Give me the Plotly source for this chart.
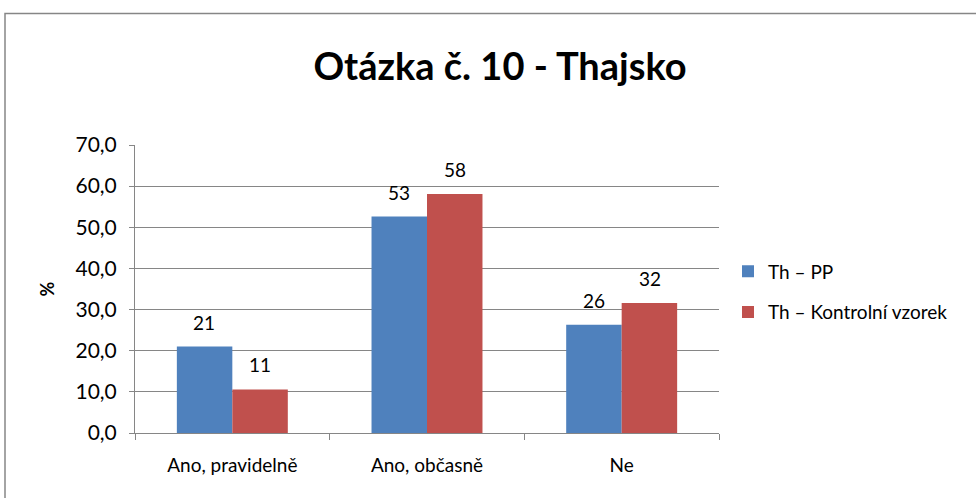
import plotly.graph_objects as go

categories = ["Ano, pravidelně", "Ano, občasně", "Ne"]
pp_values = [21.0, 52.6, 26.3]
kv_values = [10.6, 58.1, 31.6]
series_names = ["Th – PP", "Th – Kontrolní vzorek"]
y_ticks = [0, 10, 20, 30, 40, 50, 60, 70]
y_tick_labels = ["0,0", "10,0", "20,0", "30,0", "40,0", "50,0", "60,0", "70,0"]

FONT = "Lato"
L, R, T, B = 135, 257, 145, 65
PW, PH = 976 - L - R, 498 - T - B

fig = go.Figure()
fig.add_trace(go.Bar(
    x=categories, y=pp_values, name=series_names[0], legendgroup="a",
    marker=dict(color="#4F81BD", line=dict(width=0)),
))
fig.add_trace(go.Bar(
    x=categories, y=kv_values, name=series_names[1], legendgroup="b",
    marker=dict(color="#C0504D", line=dict(width=0)),
))

# data labels above each bar
for vals, shift in ((pp_values, -28), (kv_values, 28)):
    for c, v in zip(categories, vals):
        fig.add_annotation(x=c, y=v, xref="x", yref="y", text=f"{v:.0f}",
                           showarrow=False, yanchor="bottom", yshift=11, xshift=shift,
                           font=dict(family=FONT, size=19, color="#000000"))

fig.update_layout(
    width=976, height=498,
    margin=dict(l=L, r=R, t=T, b=B),
    paper_bgcolor="white", plot_bgcolor="white",
    barmode="group", bargap=0.43, bargroupgap=0,
    font=dict(family=FONT, color="#000000"),
    title=dict(text="<b>Otázka č. 10 - Thajsko</b>", x=500/976, xanchor="center",
               y=1 - 67/498, yanchor="middle",
               font=dict(family=FONT, size=38, color="#000000")),
    legend=dict(x=(728 - L) / PW, y=(433 - 292) / PH, xanchor="left", yanchor="middle",
                font=dict(family=FONT, size=19, color="#000000"),
                bgcolor="rgba(0,0,0,0)", traceorder="grouped", tracegroupgap=13,
                itemwidth=30),
    showlegend=True,
)
fig.update_xaxes(
    showline=True, linecolor="#868686", linewidth=1,
    ticks="outside", tickson="boundaries", ticklen=6, tickcolor="#868686",
    tickfont=dict(family=FONT, size=19, color="#000000"),
    ticklabelstandoff=15,
    showgrid=False,
)
fig.update_yaxes(
    range=[0, 70], tickvals=y_ticks, ticktext=y_tick_labels,
    showline=True, linecolor="#868686", linewidth=1,
    ticks="outside", ticklen=5, tickcolor="#868686",
    showgrid=True, gridcolor="#868686", gridwidth=1,
    zeroline=False,
    tickfont=dict(family=FONT, size=21, color="#000000"),
    ticklabelstandoff=8,
    title=dict(text="<b>%</b>", font=dict(family=FONT, size=18, color="#000000"), standoff=16),
)
fig.add_shape(type="rect", xref="paper", yref="paper",
              x0=(5 - L) / PW, x1=1.5, y0=-0.5, y1=(433 - 13.5) / PH,
              line=dict(color="#868686", width=1.5), fillcolor="rgba(0,0,0,0)", layer="below")

fig.write_html("out.html", config={"displayModeBar": False},
               post_script="document.body.style.margin='0px';")
